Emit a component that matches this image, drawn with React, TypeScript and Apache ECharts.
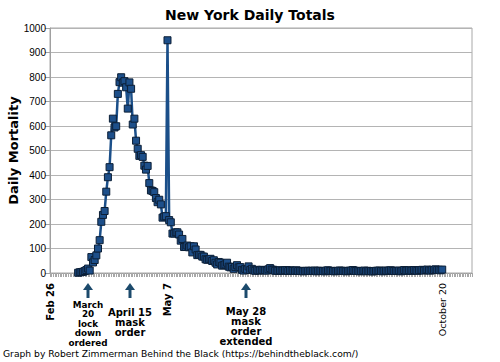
import React, { useEffect, useRef } from "react";
import * as echarts from "echarts";

const MONTHS = ["Jan", "Feb", "Mar", "Apr", "May", "Jun", "Jul", "Aug", "Sep", "Oct", "Nov", "Dec"];

// Category axis: one category per day, Feb 26 2020 onward
const AXIS_DAYS = 256;
const categories: string[] = [];
for (let i = 0; i < AXIS_DAYS; i++) {
  const d = new Date(2020, 1, 26 + i);
  categories.push(`${MONTHS[d.getMonth()]} ${d.getDate()}`);
}

const FIRST_DATA_DAY = "Mar 14";

// Daily deaths, by month (March starts at Mar 14)
const marchDeaths = [1, 3, 4, 5, 8, 12, 18, 10, 65, 43, 53, 72, 100, 134, 209, 237, 253, 332];
const aprilDeaths = [391, 432, 562, 630, 594, 599, 731, 779, 799, 777, 783, 758, 671, 778, 752, 606, 630, 540, 507, 478, 481, 474, 438, 422, 437, 367, 337, 335, 330, 306];
const mayDeaths = [289, 299, 280, 226, 230, 232, 950, 216, 207, 161, 161, 166, 166, 157, 132, 139, 106, 106, 112, 105, 109, 84, 109, 96, 73, 74, 74, 67, 67, 56, 54];
const juneDeaths = [56, 58, 49, 52, 42, 35, 45, 42, 30, 32, 35, 42, 26, 23, 25, 17, 25, 32, 23, 24, 13, 10, 17, 14, 27, 12, 17, 11, 9, 13];
const julyDeaths = [10, 11, 13, 11, 11, 10, 15, 20, 14, 13, 9, 10, 9, 11, 9, 10, 11, 12, 8, 11, 9, 9, 9, 11, 8, 9, 8, 7, 8, 9, 9];
const augustDeaths = [8, 9, 8, 10, 7, 9, 9, 8, 8, 7, 10, 11, 8, 9, 8, 7, 8, 9, 10, 9, 8, 9, 7, 8, 9, 10, 12, 9, 8, 9, 7];
const septemberDeaths = [8, 8, 10, 7, 9, 8, 8, 6, 8, 9, 9, 10, 8, 7, 9, 10, 8, 10, 11, 9, 8, 9, 8, 10, 7, 9, 12, 9, 10, 11];
const octoberDeaths = [9, 10, 12, 11, 9, 11, 12, 13, 10, 12, 14, 11, 10, 13, 12, 15, 12, 13, 11, 14];

const deaths = [
  ...marchDeaths,
  ...aprilDeaths,
  ...mayDeaths,
  ...juneDeaths,
  ...julyDeaths,
  ...augustDeaths,
  ...septemberDeaths,
  ...octoberDeaths,
];

// Labeled ticks on the date axis
const tickLabels: Record<string, string> = {
  "Feb 26": "Feb 26",
  "May 7": "May 7",
  "Oct 20": "October 20",
};

// Annotations below the axis
const annotations = [
  { x: 88, top: 300, lines: ["March", "20", "lock", "down", "ordered"], lh: 9.5, size: 8.8 },
  { x: 130, top: 307, lines: ["April 15", "mask", "order"], lh: 10, size: 10 },
  { x: 246, top: 306, lines: ["May 28", "mask", "order", "extended"], lh: 10, size: 10 },
];

const TITLE = "New York Daily Totals";
const Y_NAME = "Daily Mortality";
const CREDIT = "Graph by Robert Zimmerman Behind the Black (https://behindtheblack.com/)";

const LINE_COLOR = "#1b4f89";
const ARROW_COLOR = "#1c4a6c";
const FONT = "'DejaVu Sans', sans-serif";

export default function App() {
  const ref = useRef<HTMLDivElement>(null);

  useEffect(() => {
    if (!ref.current) return;
    const chart = echarts.init(ref.current, null, { renderer: "svg" });

    const startIdx = categories.indexOf(FIRST_DATA_DAY);
    const seriesData: (number | null)[] = categories.map(() => null);
    deaths.forEach((v, i) => {
      seriesData[startIdx + i] = v;
    });

    const graphics: any[] = [];
    annotations.forEach((a) => {
      graphics.push({
        type: "polygon",
        shape: { points: [[a.x, 283], [a.x - 5, 290], [a.x + 5, 290]] },
        style: { fill: ARROW_COLOR },
        silent: true,
      });
      graphics.push({
        type: "rect",
        shape: { x: a.x - 1.5, y: 289, width: 3, height: 9 },
        style: { fill: ARROW_COLOR },
        silent: true,
      });
      graphics.push({
        type: "text",
        x: a.x,
        y: a.top,
        style: {
          text: a.lines.join("\n"),
          fill: "#000",
          font: `bold ${a.size}px ${FONT}`,
          lineHeight: a.lh,
          textAlign: "center",
          textVerticalAlign: "top",
        },
        silent: true,
      });
    });
    graphics.push({
      type: "text",
      x: 3,
      y: 353,
      style: {
        text: CREDIT,
        fill: "#000",
        font: `9.2px ${FONT}`,
        textAlign: "left",
        textVerticalAlign: "middle",
      },
      silent: true,
    });

    chart.setOption({
      animation: false,
      backgroundColor: "#fff",
      title: {
        text: TITLE,
        left: "center",
        top: 3,
        textStyle: { fontFamily: FONT, fontSize: 14, fontWeight: "bold", color: "#000" },
      },
      grid: {
        left: 50,
        right: 28,
        top: 28,
        bottom: 89,
        outerBoundsMode: "none",
        containLabel: false,
        show: true,
        borderColor: "#a8a8a8",
        borderWidth: 1,
        backgroundColor: "transparent",
      },
      xAxis: {
        type: "category",
        data: categories,
        boundaryGap: false,
        axisLine: { show: true, lineStyle: { color: "#a0a0a0", width: 1 } },
        axisTick: { show: true, interval: 0, length: 4, lineStyle: { color: "#a8a8a8", width: 1 } },
        splitLine: { show: false },
        axisLabel: {
          interval: (_idx: number, val: string) => tickLabels[val] !== undefined,
          rotate: 90,
          margin: 10,
          hideOverlap: false,
          formatter: (val: string) =>
            val === "Oct 20" ? `{n|${tickLabels[val]}}` : `{b|${tickLabels[val] ?? ""}}`,
          rich: {
            b: { fontFamily: FONT, fontSize: 10, fontWeight: "bold", color: "#000" },
            n: { fontFamily: FONT, fontSize: 9.5, fontWeight: "normal", color: "#000" },
          },
        },
      },
      yAxis: {
        type: "value",
        min: 0,
        max: 1000,
        interval: 100,
        name: Y_NAME,
        nameLocation: "middle",
        nameGap: 30,
        nameMoveOverlap: false,
        nameTextStyle: { fontFamily: FONT, fontSize: 13, fontWeight: "bold", color: "#000" },
        axisLine: { show: true, lineStyle: { color: "#a0a0a0", width: 1 } },
        axisTick: { show: true, length: 5, lineStyle: { color: "#a0a0a0" } },
        splitLine: { show: true, lineStyle: { color: "#b4b4b4", width: 1 } },
        axisLabel: {
          margin: 4,
          formatter: (v: number) => String(v),
          fontFamily: "'Liberation Sans Narrow', 'Liberation Sans', sans-serif",
          fontSize: 10,
          color: "#000",
        },
      },
      series: [
        {
          type: "line",
          data: seriesData,
          connectNulls: false,
          symbol: "rect",
          symbolSize: 7,
          showAllSymbol: true,
          lineStyle: { color: LINE_COLOR, width: 2.5 },
          itemStyle: { color: "#1d4f8a", borderColor: "#0c1f36", borderWidth: 1 },
          emphasis: { disabled: true },
        },
      ],
      graphic: graphics,
    });

    return () => chart.dispose();
  }, []);

  return (
    <div
      ref={ref}
      style={{ position: "fixed", left: 0, top: 0, width: 500, height: 362, background: "#fff" }}
    />
  );
}
